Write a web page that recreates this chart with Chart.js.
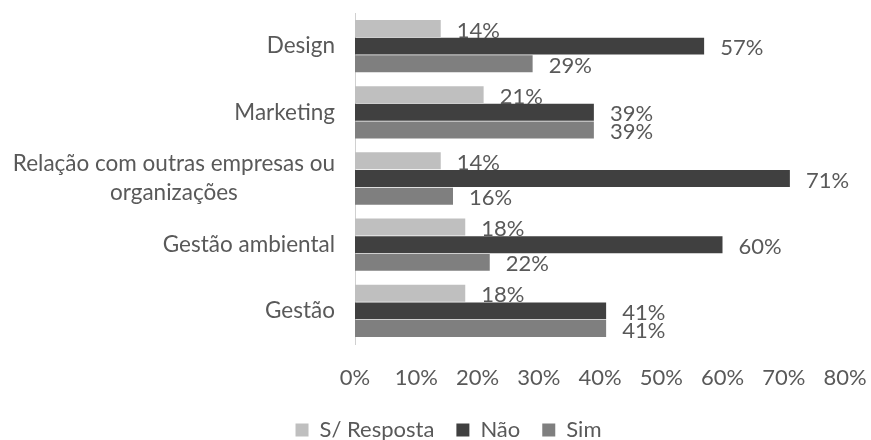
<!DOCTYPE html>
<html>
<head>
<meta charset="utf-8">
<script src="https://cdn.jsdelivr.net/npm/chart.js@4.4.1/dist/chart.umd.min.js"></script>
<style>
  html, body { margin: 0; padding: 0; background: #fff; }
  #wrap { width: 871px; height: 440px; }
</style>
</head>
<body>
<div id="wrap"><canvas id="chart" width="871" height="440"></canvas></div>
<script>
// categories, top to bottom (multi-line labels as arrays)
var CATEGORIES = [
  ["Design"],
  ["Marketing"],
  ["Relação com outras empresas ou", "organizações"],
  ["Gestão ambiental"],
  ["Gestão"]
];
var SERIES = ["S/ Resposta", "Não", "Sim"];
var SEM_RESPOSTA = [14, 21, 14, 18, 18];
var NAO = [57, 39, 71, 60, 41];
var SIM = [29, 39, 16, 22, 41];
var X_MAX = 80;
var X_STEP = 10;

var COLORS = ["#bfbfbf", "#404040", "#7f7f7f"];
var TEXT = "#595959";
var FONT = "Lato, 'Open Sans', sans-serif";

var AXIS_X = 355;   // left edge of the plot
var PAD_LEFT = 52;  // shifts the legend centre

// category names drawn at the y ticks, right aligned, extra lines centred under the first
var categoryLabels = {
  id: "categoryLabels",
  afterDraw: function (chart) {
    var ctx = chart.ctx;
    var y = chart.scales.y;
    var lh = 29;
    ctx.save();
    ctx.font = "22.5px " + FONT;
    ctx.fillStyle = TEXT;
    ctx.textBaseline = "middle";
    CATEGORIES.forEach(function (lines, i) {
      var cy = y.getPixelForTick(i);
      var right = y.right - 20;
      var widest = Math.max.apply(null, lines.map(function (t) { return ctx.measureText(t).width; }));
      var top = cy - ((lines.length - 1) * lh) / 2;
      lines.forEach(function (t, j) {
        if (lines.length === 1) {
          ctx.textAlign = "right";
          ctx.fillText(t, right, top + j * lh);
        } else {
          ctx.textAlign = "center";
          ctx.fillText(t, right - widest / 2, top + j * lh);
        }
      });
    });
    ctx.restore();
  }
};

// value labels just past the end of each bar
var valueLabels = {
  id: "valueLabels",
  afterDatasetsDraw: function (chart) {
    var ctx = chart.ctx;
    ctx.save();
    ctx.font = "22px " + FONT;
    ctx.fillStyle = TEXT;
    ctx.textAlign = "left";
    ctx.textBaseline = "middle";
    chart.data.datasets.forEach(function (ds, di) {
      chart.getDatasetMeta(di).data.forEach(function (bar, i) {
        ctx.fillText(ds.data[i] + "%", bar.x + 16, bar.y + 2);
      });
    });
    ctx.restore();
  }
};

new Chart(document.getElementById("chart"), {
  type: "bar",
  data: {
    labels: CATEGORIES,
    datasets: [
      { label: SERIES[0], data: SEM_RESPOSTA, backgroundColor: COLORS[0] },
      { label: SERIES[1], data: NAO, backgroundColor: COLORS[1] },
      { label: SERIES[2], data: SIM, backgroundColor: COLORS[2] }
    ]
  },
  options: {
    indexAxis: "y",
    responsive: false,
    animation: false,
    datasets: { bar: { categoryPercentage: 0.8, barPercentage: 0.96 } },
    layout: { padding: { top: 13, right: 26, left: PAD_LEFT, bottom: -11 } },
    plugins: {
      legend: {
        position: "bottom",
        labels: {
          boxWidth: 13,
          boxHeight: 13,
          padding: 22,
          color: TEXT,
          font: { family: FONT, size: 22 }
        }
      },
      tooltip: { enabled: false }
    },
    scales: {
      x: {
        min: 0,
        max: X_MAX,
        grid: { display: false, drawTicks: true, tickLength: 21 },
        border: { display: false },
        ticks: {
          stepSize: X_STEP,
          padding: 0,
          color: TEXT,
          font: { family: FONT, size: 22 },
          callback: function (v) { return v + "%"; }
        },
        afterFit: function (s) { s.height = 53; }
      },
      y: {
        grid: { display: false, drawTicks: false },
        border: { display: true, color: "#d0d0d0", width: 1 },
        ticks: { display: false },
        afterFit: function (s) { s.width = AXIS_X - PAD_LEFT; }
      }
    }
  },
  plugins: [categoryLabels, valueLabels]
});
</script>
</body>
</html>
